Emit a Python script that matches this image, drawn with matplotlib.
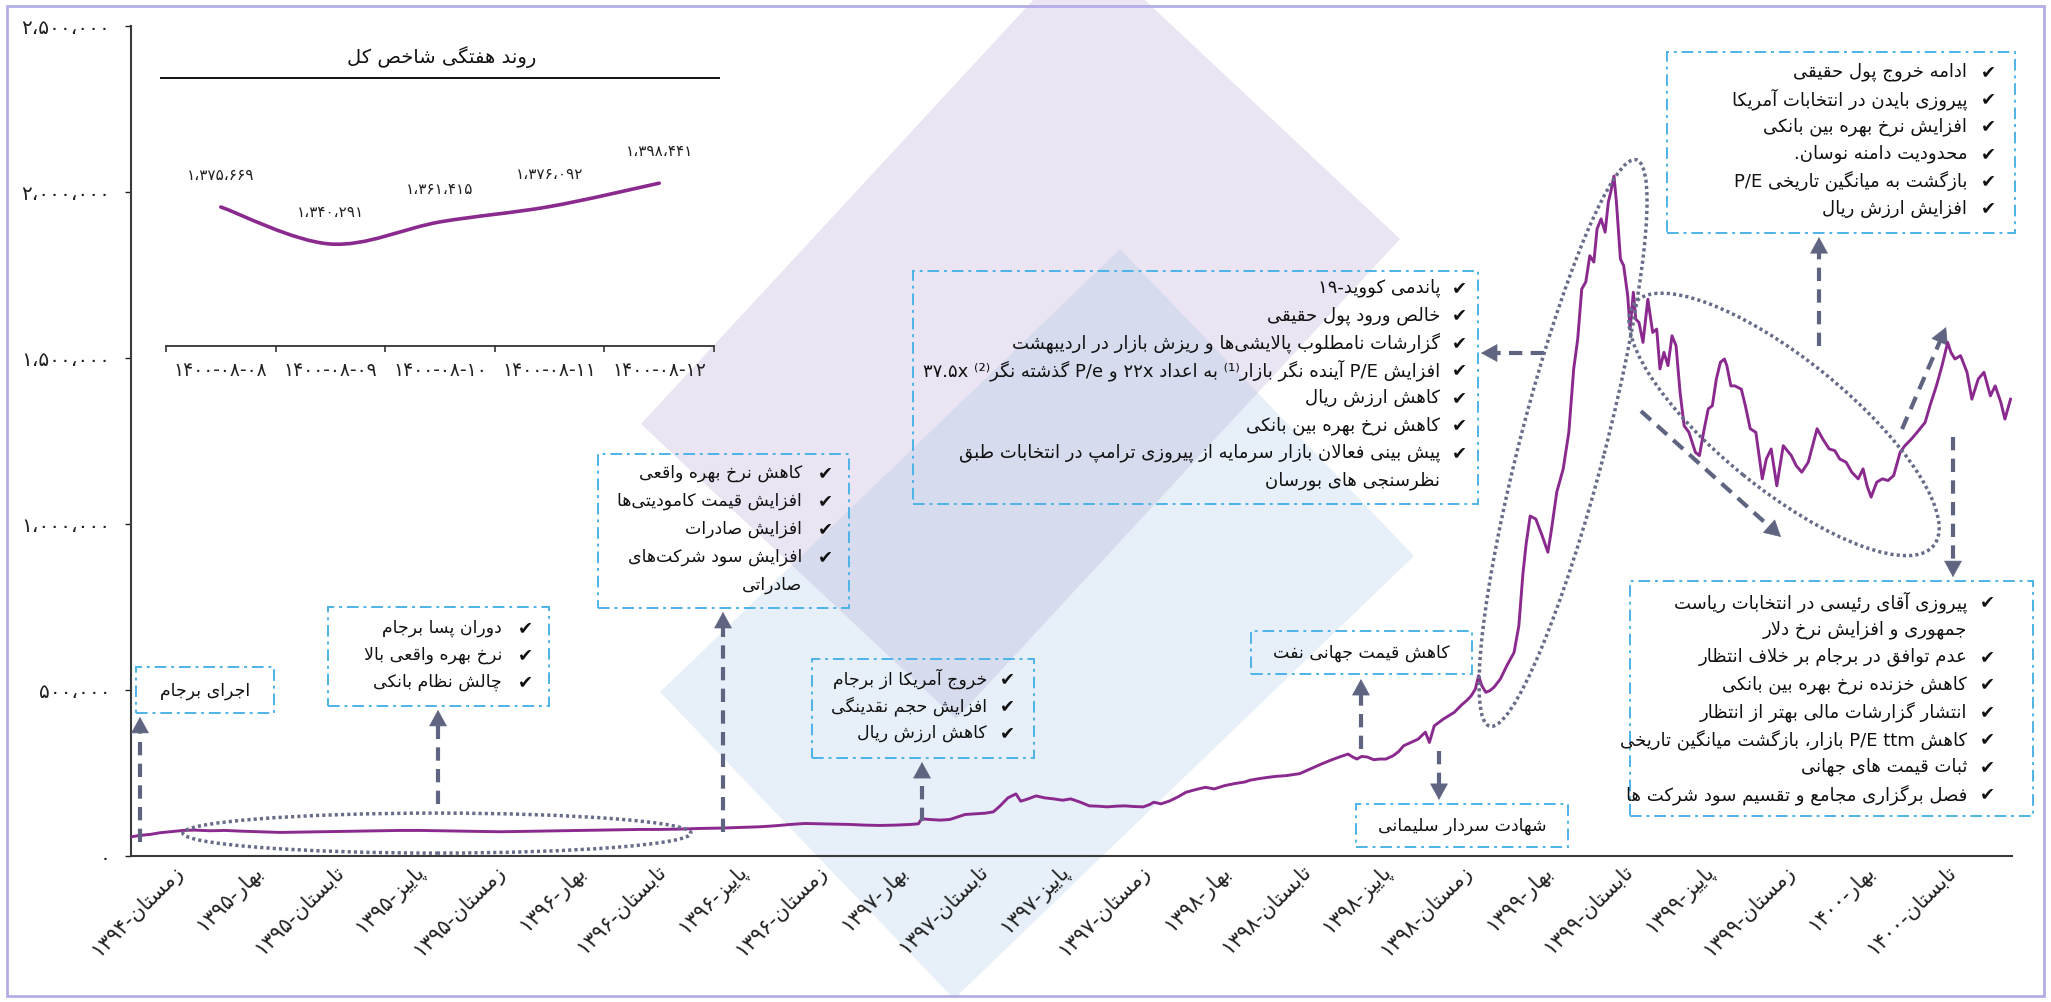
import numpy as np
import matplotlib
matplotlib.use("Agg")
import matplotlib.pyplot as plt
from matplotlib.patches import Rectangle, Ellipse, Polygon, PathPatch
from matplotlib.path import Path
from matplotlib.transforms import IdentityTransform, offset_copy
from matplotlib.lines import Line2D

plt.rcParams['font.family'] = ['DejaVu Sans']

# ---------------- داده‌ها ----------------
# برچسب فصل‌ها روی محور افقی
fasl_ha = ['زمستان-۱۳۹۴', 'بهار-۱۳۹۵', 'تابستان-۱۳۹۵', 'پاییز-۱۳۹۵', 'زمستان-۱۳۹۵',
           'بهار-۱۳۹۶', 'تابستان-۱۳۹۶', 'پاییز-۱۳۹۶', 'زمستان-۱۳۹۶', 'بهار-۱۳۹۷',
           'تابستان-۱۳۹۷', 'پاییز-۱۳۹۷', 'زمستان-۱۳۹۷', 'بهار-۱۳۹۸', 'تابستان-۱۳۹۸',
           'پاییز-۱۳۹۸', 'زمستان-۱۳۹۸', 'بهار-۱۳۹۹', 'تابستان-۱۳۹۹', 'پاییز-۱۳۹۹',
           'زمستان-۱۳۹۹', 'بهار-۱۴۰۰', 'تابستان-۱۴۰۰']

# موقعیت زمانی (بر حسب فصل) و مقدار شاخص کل (هزار واحد)
zaman = [-0.45, -0.35, -0.22, -0.10, 0.02, 0.19, 0.33, 0.52, 0.71, 0.89,
         1.14, 1.39, 1.64, 1.89, 2.13, 2.38, 2.63, 2.88, 3.13, 3.37,
         3.62, 3.87, 4.12, 4.37, 4.62, 4.86, 5.11, 5.36, 5.61, 5.86,
         6.10, 6.35, 6.60, 6.85, 7.10, 7.34, 7.53, 7.72, 7.90, 8.09,
         8.28, 8.46, 8.65, 8.83, 9.02, 9.21, 9.31, 9.35, 9.45, 9.58,
         9.70, 9.80, 9.89, 10.01, 10.14, 10.24, 10.32, 10.42, 10.52, 10.58,
         10.67, 10.77, 10.88, 10.99, 11.10, 11.20, 11.32, 11.43, 11.54, 11.65,
         11.76, 11.87, 11.99, 12.10, 12.18, 12.23, 12.32, 12.43, 12.53, 12.63,
         12.75, 12.87, 12.98, 13.11, 13.23, 13.36, 13.42, 13.51, 13.62, 13.75,
         13.87, 13.96, 14.04, 14.17, 14.31, 14.42, 14.53, 14.64, 14.70, 14.75,
         14.81, 14.88, 14.96, 15.03, 15.11, 15.20, 15.27, 15.33, 15.42, 15.51,
         15.60, 15.65, 15.71, 15.82, 15.96, 16.04, 16.12, 16.17, 16.22, 16.26,
         16.30, 16.35, 16.40, 16.45, 16.53, 16.61, 16.70, 16.76, 16.81, 16.85,
         16.90, 16.97, 17.05, 17.12, 17.16, 17.23, 17.31, 17.38, 17.44, 17.49,
         17.54, 17.59, 17.64, 17.69, 17.73, 17.78, 17.83, 17.87, 17.90, 17.94,
         17.97, 18.02, 18.06, 18.11, 18.14, 18.18, 18.21, 18.25, 18.30, 18.36,
         18.42, 18.47, 18.51, 18.56, 18.61, 18.66, 18.71, 18.76, 18.81, 18.87,
         18.95, 19.00, 19.06, 19.11, 19.16, 19.21, 19.26, 19.31, 19.34, 19.39,
         19.44, 19.52, 19.57, 19.63, 19.70, 19.78, 19.83, 19.89, 19.96, 20.04,
         20.14, 20.20, 20.27, 20.35, 20.46, 20.53, 20.61, 20.68, 20.74, 20.82,
         20.89, 20.97, 21.03, 21.08, 21.13, 21.20, 21.27, 21.34, 21.41, 21.49,
         21.55, 21.63, 21.70, 21.80, 21.86, 21.94, 22.01, 22.08, 22.12, 22.17,
         22.24, 22.32, 22.38, 22.46, 22.53, 22.61, 22.67, 22.74, 22.79, 22.86]
shakhes_k = [58, 62, 65, 70, 73, 77, 78, 76, 77, 75,
             73, 71, 72, 73, 74, 75, 76, 77, 77, 76,
             75, 74, 73, 74, 75, 76, 77, 78, 79, 80,
             80, 81, 83, 84, 86, 88, 91, 95, 98, 97,
             96, 95, 93, 92, 93, 95, 97, 112, 110, 108,
             110, 118, 125, 127, 129, 133, 150, 175, 187, 165,
             172, 181, 175, 172, 168, 172, 162, 151, 150, 148,
             150, 151, 149, 148, 155, 162, 157, 166, 178, 192,
             200, 207, 202, 212, 218, 223, 228, 232, 236, 240,
             242, 245, 248, 262, 277, 288, 298, 307, 298, 292,
             300, 298, 290, 292, 292, 302, 315, 332, 342, 352,
             373, 342, 392, 412, 433, 453, 470, 483, 503, 543,
             513, 493, 498, 508, 533, 573, 613, 694, 850, 940,
             1024, 1015, 964, 915, 976, 1096, 1166, 1277, 1467, 1557,
             1708, 1729, 1808, 1789, 1889, 1919, 1879, 1970, 2000, 2048,
             1970, 1798, 1778, 1688, 1587, 1698, 1617, 1607, 1547, 1677,
             1577, 1587, 1467, 1517, 1477, 1567, 1537, 1396, 1296, 1276,
             1216, 1206, 1287, 1347, 1356, 1437, 1487, 1497, 1477, 1416,
             1416, 1406, 1356, 1287, 1276, 1136, 1196, 1226, 1115, 1236,
             1206, 1176, 1156, 1186, 1287, 1256, 1226, 1221, 1196, 1186,
             1156, 1136, 1166, 1115, 1081, 1126, 1136, 1131, 1146, 1216,
             1236, 1256, 1276, 1306, 1356, 1416, 1477, 1547, 1517, 1497,
             1507, 1457, 1376, 1437, 1457, 1386, 1416, 1366, 1316, 1376]

# نمودار کوچک: روند هفتگی
hafte_ha = ['۱۴۰۰-۰۸-۰۸', '۱۴۰۰-۰۸-۰۹', '۱۴۰۰-۰۸-۱۰', '۱۴۰۰-۰۸-۱۱', '۱۴۰۰-۰۸-۱۲']
hafte_v = [1375669, 1340291, 1361415, 1376092, 1398441]

# ---------------- شکل‌دهی حروف فارسی (بدون کتابخانه بیرونی) ----------------
FORMS = {  # حرف: (کد شکل تنها، نوع اتصال: 0 بدون، 1 فقط از راست، 2 دوطرفه)
    'ء': (0xFE80, 0), 'آ': (0xFE81, 1), 'أ': (0xFE83, 1), 'ؤ': (0xFE85, 1), 'إ': (0xFE87, 1),
    'ئ': (0xFE89, 2), 'ا': (0xFE8D, 1), 'ب': (0xFE8F, 2), 'ة': (0xFE93, 1), 'ت': (0xFE95, 2),
    'ث': (0xFE99, 2), 'ج': (0xFE9D, 2), 'ح': (0xFEA1, 2), 'خ': (0xFEA5, 2), 'د': (0xFEA9, 1),
    'ذ': (0xFEAB, 1), 'ر': (0xFEAD, 1), 'ز': (0xFEAF, 1), 'س': (0xFEB1, 2), 'ش': (0xFEB5, 2),
    'ص': (0xFEB9, 2), 'ض': (0xFEBD, 2), 'ط': (0xFEC1, 2), 'ظ': (0xFEC5, 2), 'ع': (0xFEC9, 2),
    'غ': (0xFECD, 2), 'ف': (0xFED1, 2), 'ق': (0xFED5, 2), 'ك': (0xFED9, 2), 'ل': (0xFEDD, 2),
    'م': (0xFEE1, 2), 'ن': (0xFEE5, 2), 'ه': (0xFEE9, 2), 'و': (0xFEED, 1), 'ى': (0xFEEF, 1),
    'ي': (0xFEF1, 2), 'پ': (0xFB56, 2), 'چ': (0xFB7A, 2), 'ژ': (0xFB8A, 1), 'ک': (0xFB8E, 2),
    'گ': (0xFB92, 2), 'ی': (0xFBFC, 2),
}
LAM_ALEF = {'ا': 0xFEFB, 'آ': 0xFEF5, 'أ': 0xFEF7, 'إ': 0xFEF9}
MIRROR = {'(': ')', ')': '(', '⁽': '⁾', '⁾': '⁽'}


def _shape(s):
    out, i, n = [], 0, len(s)
    while i < n:
        c = s[i]
        if c not in FORMS:
            if c != '\u200c':
                out.append(c)
            i += 1
            continue
        prev = s[i - 1] if i > 0 else ''
        p = prev in FORMS and FORMS[prev][1] == 2
        if c == 'ل' and i + 1 < n and s[i + 1] in LAM_ALEF:
            out.append(chr(LAM_ALEF[s[i + 1]] + (1 if p else 0)))
            i += 2
            continue
        nxt = s[i + 1] if i + 1 < n else ''
        start, kind = FORMS[c]
        q = kind == 2 and nxt in FORMS and FORMS[nxt][1] >= 1
        if kind == 0:
            k = 0
        elif p and q:
            k = 3
        elif p:
            k = 1
        elif q:
            k = 2
        else:
            k = 0
        out.append(chr(start + k))
        i += 1
    return ''.join(out)


def _ltr(c):
    o = ord(c)
    return (c.isascii() and c.isalnum()) or 0x06F0 <= o <= 0x06F9 or 0x0660 <= o <= 0x0669


def _rtl(c):
    o = ord(c)
    return 0xFB50 <= o <= 0xFEFF or 0x0621 <= o <= 0x064A or c in '⁽⁾¹²'


def fa(s):
    s = _shape(s)
    n = len(s)
    segs, i = [], 0
    while i < n:
        if _ltr(s[i]):
            j, k = i, i + 1
            while k < n and not _rtl(s[k]):
                if _ltr(s[k]):
                    j = k
                k += 1
            segs.append((True, s[i:j + 1]))
            i = j + 1
        else:
            j = i
            while j < n and not _ltr(s[j]):
                j += 1
            segs.append((False, s[i:j]))
            i = j
    return ''.join(t if l else ''.join(MIRROR.get(c, c) for c in reversed(t))
                   for l, t in reversed(segs))


def fa_num(v):
    return f'{int(round(v)):,}'.replace(',', '،').translate(str.maketrans('0123456789', '۰۱۲۳۴۵۶۷۸۹'))


# ---------------- شکل ----------------
W, H = 2051, 1003
fig = plt.figure(figsize=(W / 100, H / 100), dpi=100)

BINAFSH = '#8b2a8e'
FELESH = '#5f6581'
NOGHTE = '#676c88'
KADR = '#4db3e8'


def fxy(x, y):
    return (x / W, 1 - y / H)


# پس‌زمینه تزئینی (دو لوزی کم‌رنگ) و قاب بیرونی
fig.add_artist(Polygon([fxy(641, 425), fxy(956, 720), fxy(1400, 240), fxy(1085, -55)],
                       closed=True, transform=fig.transFigure, facecolor='#9d7fc4',
                       alpha=0.2, edgecolor='none', zorder=-2))
fig.add_artist(Polygon([fxy(660, 693), fxy(954, 1000), fxy(1414, 557), fxy(1120, 250)],
                       closed=True, transform=fig.transFigure, facecolor='#7faedc',
                       alpha=0.18, edgecolor='none', zorder=-2))
fig.add_artist(Rectangle(fxy(7, 997), 2037 / W, 990 / H, transform=fig.transFigure,
                         fill=False, edgecolor='#b3aee6', lw=2, zorder=-1))

# ---------------- نمودار اصلی ----------------
ax = fig.add_axes([131 / W, 1 - 857 / H, (2012 - 131) / W, (857 - 27) / H])
ax.patch.set_visible(False)
ax.set_xlim(-0.459, 22.878)
ax.set_ylim(0, 2_500_000)

ax.plot(zaman, np.array(shakhes_k) * 1000, color=BINAFSH, lw=2.1, zorder=4)

for s in ['top', 'right']:
    ax.spines[s].set_visible(False)
for s in ['left', 'bottom']:
    ax.spines[s].set_color('#3a3a3a')
    ax.spines[s].set_linewidth(1.5)

ax.set_yticks(np.arange(0, 2_500_001, 500_000))
ax.set_yticklabels([fa_num(v) for v in np.arange(0, 2_500_001, 500_000)], fontsize=14.5)
ax.tick_params(axis='y', length=4, width=1, pad=11, colors='#222222')
ax.set_xticks(range(len(fasl_ha)))
ax.set_xticklabels([fa(t) for t in fasl_ha], rotation=45, ha='right', va='top',
                   rotation_mode='anchor', fontsize=15)
ax.tick_params(axis='x', length=0, pad=3, colors='#222222')
for lab in ax.get_xticklabels():
    lab.set_transform(offset_copy(lab.get_transform(), fig=fig, x=4, y=0, units='dots'))

# کادرهای توضیحی: (چپ، راست، پایین، بالا) در مختصات داده
kadr_ha = {
    'barjam': (-0.397, 1.315, 431e3, 569e3),
    'pasa': (1.985, 4.727, 452e3, 750e3),
    'bahre': (5.335, 8.449, 747e3, 1211e3),
    'amrika': (7.990, 10.744, 295e3, 593e3),
    'corona': (9.243, 16.253, 1060e3, 1762e3),
    'khoruj': (18.598, 22.916, 1877e3, 2422e3),
    'naft': (13.437, 16.179, 548e3, 678e3),
    'soleimani': (14.739, 17.370, 27e3, 157e3),
    'raisi': (18.139, 23.139, 120e3, 828e3),
}
for x0, x1, y0, y1 in kadr_ha.values():
    ax.add_patch(Rectangle((x0, y0), x1 - x0, y1 - y0, fill=False, edgecolor=KADR,
                           lw=1.4, ls=(0, (6, 2.5, 1.5, 2.5)), clip_on=False, zorder=3))

matn_ha = {
    'pasa': (['دوران پسا برجام', True], ['نرخ بهره واقعی بالا', True], ['چالش نظام بانکی', True]),
    'bahre': (['کاهش نرخ بهره واقعی', True], ['افزایش قیمت کامودیتی‌ها', True],
              ['افزایش صادرات', True], ['افزایش سود شرکت‌های', True], ['صادراتی', False]),
    'amrika': (['خروج آمریکا از برجام', True], ['افزایش حجم نقدینگی', True], ['کاهش ارزش ریال', True]),
    'corona': (['پاندمی کووید-۱۹', True], ['خالص ورود پول حقیقی', True],
               ['گزارشات نامطلوب پالایشی‌ها و ریزش بازار در اردیبهشت', True],
               ['افزایش P/E آینده نگر بازار⁽¹⁾ به اعداد ۲۲x و P/e گذشته نگر⁽²⁾ ۳۷.۵x', True],
               ['کاهش ارزش ریال', True], ['کاهش نرخ بهره بین بانکی', True],
               ['پیش بینی فعالان بازار سرمایه از پیروزی ترامپ در انتخابات طبق', True],
               ['نظرسنجی های بورسان', False]),
    'khoruj': (['ادامه خروج پول حقیقی', True], ['پیروزی بایدن در انتخابات آمریکا', True],
               ['افزایش نرخ بهره بین بانکی', True], ['محدودیت دامنه نوسان.', True],
               ['بازگشت به میانگین تاریخی P/E', True], ['افزایش ارزش ریال', True]),
    'raisi': (['پیروزی آقای رئیسی در انتخابات ریاست', True], ['جمهوری و افزایش نرخ دلار', False],
              ['عدم توافق در برجام بر خلاف انتظار', True], ['کاهش خزنده نرخ بهره بین بانکی', True],
              ['انتشار گزارشات مالی بهتر از انتظار', True],
              ['کاهش P/E ttm بازار، بازگشت میانگین تاریخی', True],
              ['ثبات قیمت های جهانی', True], ['فصل برگزاری مجامع و تقسیم سود شرکت ها', True]),
}
# فاصله‌ها به پیکسل: (تیک از لبه راست، متن از لبه راست، خط اول از بالا، فاصله خطوط، اندازه قلم)
chideman = {
    'pasa': (24, 47, 20, 27, 12.5), 'bahre': (24, 47, 18, 28, 12.5),
    'amrika': (26, 47, 19, 27, 12.5), 'corona': (19, 38, 16, 27.5, 13),
    'khoruj': (27, 48, 19, 27.3, 13), 'raisi': (46, 66, 20, 27.5, 13),
}
for key, lines in matn_ha.items():
    x0, x1, y0, y1 = kadr_ha[key]
    dchk, dtxt, top, step, fs = chideman[key]
    for k, (t, chk) in enumerate(lines):
        dy = -(top + k * step)
        if chk:
            ax.annotate('✔', xy=(x1, y1), xytext=(-dchk, dy), textcoords='offset pixels',
                        ha='center', va='center', fontsize=13, color='#111111',
                        annotation_clip=False, zorder=5)
        ax.annotate(fa(t), xy=(x1, y1), xytext=(-dtxt, dy), textcoords='offset pixels',
                    ha='right', va='center', fontsize=fs, color='#111111',
                    annotation_clip=False, zorder=5)

for key, t in [('barjam', 'اجرای برجام'), ('naft', 'کاهش قیمت جهانی نفت'),
               ('soleimani', 'شهادت سردار سلیمانی')]:
    x0, x1, y0, y1 = kadr_ha[key]
    ax.text((x0 + x1) / 2, (y0 + y1) / 2, fa(t), ha='center', va='center', fontsize=12.5,
            color='#111111', zorder=5)

# بیضی‌های نقطه‌چین: مرکز در مختصات داده، اندازه به پیکسل
beizi_ha = [((3.337, 69e3), 508, 40, 0), ((17.308, 1244e3), 585, 85, 75.5),
            ((20.05, 1300e3), 385, 130, -39)]
for c, w, h, a in beizi_ha:
    cx, cy = ax.transData.transform(c)
    e = Ellipse((cx, cy), w, h, angle=a, transform=IdentityTransform(), fill=False,
                edgecolor=NOGHTE, lw=2.5, ls=(0, (0.9, 0.9)), zorder=6)
    fig.add_artist(e)

# فلش‌های خط‌چین
felesh_ha = [((-0.347, 42e3), (-0.347, 419e3)), ((3.35, 157e3), (3.35, 440e3)),
             ((6.886, 72e3), (6.886, 735e3)), ((9.355, 105e3), (9.355, 283e3)),
             ((14.801, 322e3), (14.801, 533e3)), ((15.769, 316e3), (15.769, 169e3)),
             ((17.072, 1515e3), (16.29, 1515e3)), ((20.484, 1536e3), (20.484, 1864e3)),
             ((18.275, 1340e3), (20.012, 961e3)), ((21.514, 1286e3), (22.06, 1593e3)),
             ((22.146, 1262e3), (22.146, 840e3))]
inv = ax.transData.inverted()
for p0, p1 in felesh_ha:
    d0 = ax.transData.transform(p0)
    d1 = ax.transData.transform(p1)
    u = (d1 - d0) / np.hypot(*(d1 - d0))
    b = inv.transform(d1 - u * 14)
    ax.plot([p0[0], b[0]], [p0[1], b[1]], color=FELESH, lw=3, ls=(0, (3.2, 2.0)),
            solid_capstyle='butt', dash_capstyle='butt', clip_on=False, zorder=5)
    ax.annotate('', xy=p1, xytext=b, annotation_clip=False,
                arrowprops=dict(arrowstyle='-|>,head_length=1.0,head_width=0.55',
                                color=FELESH, lw=0.5, shrinkA=0, shrinkB=0, mutation_scale=11))

# ---------------- نمودار کوچک ----------------
ix = fig.add_axes([166 / W, 1 - 347 / H, (714 - 166) / W, (347 - 79) / H])
ix.patch.set_visible(False)
ix.set_xlim(-0.5, 4.5)
ix.set_ylim(1_242_800, 1_499_000)
xs = np.arange(len(hafte_v), dtype=float)
P = np.column_stack([xs, hafte_v]).astype(float)
verts, codes = [P[0]], [Path.MOVETO]
for i in range(len(P) - 1):
    p0 = P[i - 1] if i > 0 else P[i]
    p3 = P[i + 2] if i + 2 < len(P) else P[i + 1]
    verts += [P[i] + (P[i + 1] - p0) / 6, P[i + 1] - (p3 - P[i]) / 6, P[i + 1]]
    codes += [Path.CURVE4] * 3
ix.add_patch(PathPatch(Path(verts, codes), fill=False, edgecolor=BINAFSH, lw=2.6,
                       capstyle='round'))
for x, v in zip(xs, hafte_v):
    ix.annotate(fa_num(v), xy=(x, v), xytext=(0, 33), textcoords='offset pixels',
                ha='center', va='center', fontsize=11, color='#222222')
for s in ['top', 'left', 'right']:
    ix.spines[s].set_visible(False)
ix.spines['bottom'].set_color('#333333')
ix.spines['bottom'].set_linewidth(1.3)
ix.set_yticks([])
ix.set_xticks(xs)
ix.set_xticklabels(hafte_ha, fontsize=13.5)
ix.set_xticks(np.arange(-0.5, 4.6, 1.0), minor=True)
ix.tick_params(axis='x', which='major', length=0, pad=10, colors='#222222')
ix.tick_params(axis='x', which='minor', length=4, width=1.2, direction='out', color='#333333')

fig.add_artist(Line2D([161 / W, 719 / W], [1 - 79 / H, 1 - 79 / H], color='#111111', lw=1.4))
fig.text(442 / W, 1 - 57 / H, fa('روند هفتگی شاخص کل'), ha='center', va='center',
         fontsize=14, color='#111111')

fig.savefig('out.png', dpi=100)
